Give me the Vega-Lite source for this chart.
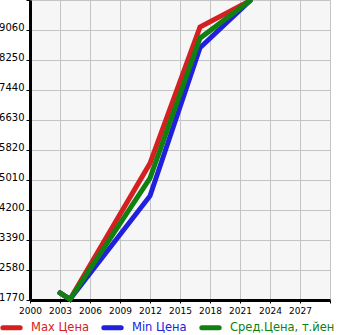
{
  "$schema": "https://vega.github.io/schema/vega-lite/v6.json",
  "width": 300,
  "height": 300,
  "autosize": "none",
  "padding": {"left": 30, "top": 0, "right": 15, "bottom": 35},
  "background": "white",
  "config": {
    "view": {"fill": "#f6f6f6", "stroke": null},
    "font": "DejaVu Sans"
  },
  "data": {
    "values": [
      {"year": 2003, "series": "Max Цена", "price": 1960},
      {"year": 2004, "series": "Max Цена", "price": 1790},
      {"year": 2012, "series": "Max Цена", "price": 5460},
      {"year": 2017, "series": "Max Цена", "price": 9140},
      {"year": 2022, "series": "Max Цена", "price": 9850},
      {"year": 2003, "series": "Min Цена", "price": 1960},
      {"year": 2004, "series": "Min Цена", "price": 1790},
      {"year": 2012, "series": "Min Цена", "price": 4580},
      {"year": 2017, "series": "Min Цена", "price": 8580},
      {"year": 2022, "series": "Min Цена", "price": 9850},
      {"year": 2003, "series": "Сред.Цена, т.йен", "price": 1960},
      {"year": 2004, "series": "Сред.Цена, т.йен", "price": 1790},
      {"year": 2012, "series": "Сред.Цена, т.йен", "price": 5060},
      {"year": 2017, "series": "Сред.Цена, т.йен", "price": 8840},
      {"year": 2022, "series": "Сред.Цена, т.йен", "price": 9850}
    ]
  },
  "mark": {"type": "line", "strokeWidth": 5, "strokeCap": "round", "clip": false},
  "encoding": {
    "x": {
      "field": "year", "type": "quantitative",
      "scale": {"domain": [2000, 2030], "nice": false, "zero": false},
      "axis": {
        "title": null,
        "values": [2000, 2003, 2006, 2009, 2012, 2015, 2018, 2021, 2024, 2027, 2030],
        "labelExpr": "datum.value == 2030 ? '' : datum.value",
        "format": "d",
        "grid": true, "gridColor": "#c4c4c4", "gridWidth": 1, "gridOpacity": 1,
        "domainColor": "#000000", "domainWidth": 3,
        "tickColor": "#000000", "tickSize": 3, "tickWidth": 1,
        "labelFont": "DejaVu Sans", "labelFontSize": 9, "labelColor": "#000000",
        "labelPadding": 3, "labelFlush": false, "labelOverlap": false, "labelDx": 2
      }
    },
    "y": {
      "field": "price", "type": "quantitative",
      "scale": {"domain": [1770, 9870], "nice": false, "zero": false},
      "axis": {
        "title": null,
        "values": [1770, 2580, 3390, 4200, 5010, 5820, 6630, 7440, 8250, 9060, 9870],
        "labelExpr": "datum.value == 9870 ? '' : datum.value",
        "grid": true, "gridColor": "#c4c4c4", "gridWidth": 1, "gridOpacity": 1,
        "domainColor": "#000000", "domainWidth": 3,
        "tickColor": "#000000", "tickSize": 4, "tickWidth": 1,
        "labelFont": "DejaVu Sans", "labelFontSize": 10, "labelColor": "#000000",
        "labelPadding": 2, "labelBaseline": "alphabetic", "labelFlush": false, "labelOverlap": false
      }
    },
    "color": {
      "field": "series", "type": "nominal",
      "scale": {
        "domain": ["Max Цена", "Min Цена", "Сред.Цена, т.йен"],
        "range": ["#d42020", "#2020dd", "#108010"]
      },
      "legend": {
        "title": null,
        "orient": "none",
        "direction": "horizontal",
        "legendX": -30,
        "legendY": 316,
        "symbolType": "stroke",
        "symbolStrokeWidth": 5,
        "symbolSize": 300,
        "labelFont": "DejaVu Sans",
        "labelFontSize": 11.5,
        "labelOffset": 8,
        "columnPadding": 4,
        "padding": 0,
        "encode": {
          "labels": {"update": {"fill": {"scale": "color", "field": "value"}}},
          "symbols": {"update": {"strokeCap": {"value": "round"}}}
        }
      }
    },
    "order": {"field": "year", "type": "quantitative"}
  }
}
